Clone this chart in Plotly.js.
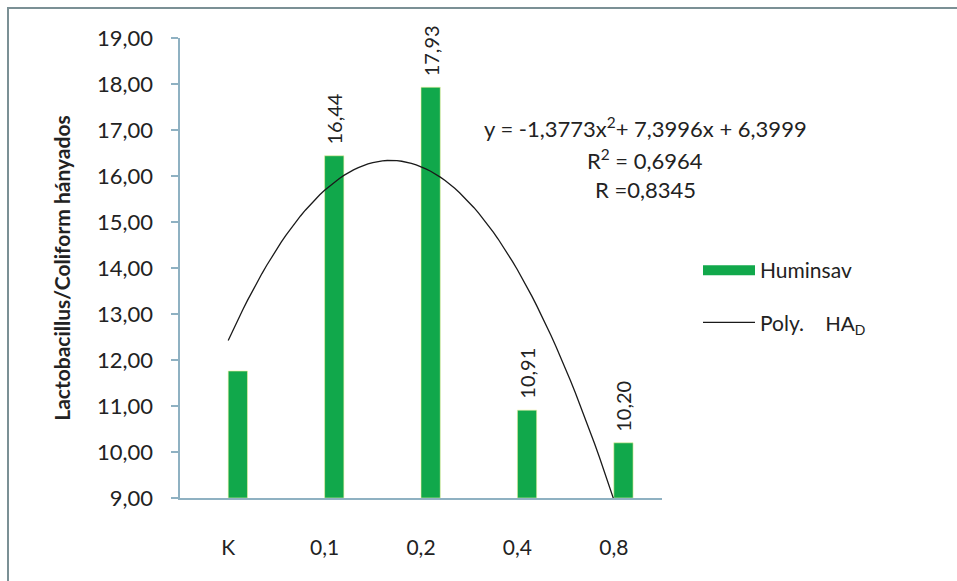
<!DOCTYPE html>
<html>
<head>
<meta charset="utf-8">
<script src="https://cdn.plot.ly/plotly-3.0.1.min.js"></script>
<style>
  html, body { margin: 0; padding: 0; background: #ffffff; }
  #wrap { position: relative; width: 957px; height: 581px; overflow: hidden; }
  #chart { position: absolute; left: 0; top: 0; width: 957px; height: 581px; }
  #frame { position: absolute; left: 7px; top: 7px; width: 1000px; height: 1000px;
           border-left: 2px solid #7b9095; border-top: 2px solid #7b9095; pointer-events: none; }
</style>
</head>
<body>
<div id="wrap">
  <div id="chart"></div>
  <div id="frame"></div>
</div>
<script>
// ---- data ----
const categories = ['K', '0,1', '0,2', '0,4', '0,8'];
const huminsavValues = [11.76, 16.44, 17.93, 10.91, 10.20];
const labelShown = [false, true, true, true, true];
const trendCoef = [-1.3773, 7.3996, 6.3999]; // a*x^2 + b*x + c (from chart equation)
const yTickVals = [9, 10, 11, 12, 13, 14, 15, 16, 17, 18, 19];
const seriesName = 'Huminsav';
const trendName = 'Poly.\u00A0\u00A0\u00A0\u00A0<span style="font-family:Liberation Sans">HA<sub>D</sub></span>';
const equationLines = ['y = -1,3773x<sup>2</sup>+ 7,3996x + 6,3999', 'R<sup>2</sup> = 0,6964', 'R =0,8345'];

const xPos = categories.map((c, i) => i + 1);
const trendX = [];
for (let x = 1; x <= 5.0001; x += 0.05) trendX.push(x);
const trendY = trendX.map(x => trendCoef[0] * x * x + trendCoef[1] * x + trendCoef[2]);

const green = '#11a84b';
const font = 'Lato, "Open Sans", sans-serif';

const traces = [
  {
    type: 'bar', x: xPos, y: huminsavValues.map(v => v - 9), base: 9,
    offset: 0, width: 0.2,
    marker: { color: green, line: { color: '#f4f2a0', width: 0.6 } },
    showlegend: false, hoverinfo: 'skip'
  },
  {
    type: 'scatter', mode: 'lines', x: [null], y: [null],
    name: seriesName, line: { color: green, width: 15 },
    legendgroup: 'a', showlegend: true
  },
  {
    type: 'scatter', mode: 'lines', x: trendX, y: trendY,
    name: trendName, line: { color: '#1a1a1a', width: 1.3 },
    legendgroup: 'b', showlegend: true
  }
];

const annotations = [];
huminsavValues.forEach((v, i) => {
  if (!labelShown[i]) return;
  annotations.push({
    x: xPos[i] + 0.1, y: v, xref: 'x', yref: 'y',
    text: v.toFixed(2).replace('.', ','), showarrow: false,
    textangle: -90, xanchor: 'center', yanchor: 'bottom', yshift: 9,
    font: { family: font, size: 20, color: '#222222' }
  });
});
const eqY = [0.806, 0.736, 0.670];
equationLines.forEach((t, i) => {
  annotations.push({
    x: 0.965, y: eqY[i], xref: 'paper', yref: 'paper',
    text: t, showarrow: false, xanchor: 'center', yanchor: 'middle',
    font: { family: font, size: 22, color: '#222222' }
  });
});

const layout = {
  width: 957, height: 581,
  margin: { l: 180, r: 295, t: 38, b: 83, autoexpand: false },
  paper_bgcolor: '#ffffff', plot_bgcolor: '#ffffff',
  separators: ',.',
  font: { family: font, color: '#222222' },
  xaxis: {
    type: 'linear', range: [0.5, 5.5],
    tickvals: xPos, ticktext: categories,
    ticks: 'outside', ticklen: 30, tickcolor: 'rgba(0,0,0,0)',
    showgrid: false, zeroline: false,
    showline: true, linecolor: '#8fb1c2', linewidth: 1.6,
    tickfont: { family: font, size: 21, color: '#222222' },
    fixedrange: true
  },
  yaxis: {
    range: [9, 19], tickvals: yTickVals, tickformat: '.2f',
    ticks: 'outside', ticklen: 7, tickcolor: '#8fb1c2', tickwidth: 1.5,
    ticklabelstandoff: 14,
    showgrid: false, zeroline: false,
    showline: true, linecolor: '#8fb1c2', linewidth: 1.6,
    tickfont: { family: font, size: 22, color: '#222222' },
    title: { text: '<b>Lactobacillus/Coliform hányados</b>', standoff: 20,
             font: { family: font, size: 21, color: '#222222' } },
    fixedrange: true
  },
  legend: {
    x: (698 - 180) / 482, xref: 'paper', xanchor: 'left',
    y: (498 - 250) / 460, yref: 'paper', yanchor: 'top',
    traceorder: 'grouped', tracegroupgap: 22, itemwidth: 52,
    font: { family: font, size: 21, color: '#222222' },
    bgcolor: 'rgba(0,0,0,0)'
  },
  annotations: annotations,
  showlegend: true
};

Plotly.newPlot('chart', traces, layout, { displayModeBar: false, staticPlot: true });
</script>
</body>
</html>
